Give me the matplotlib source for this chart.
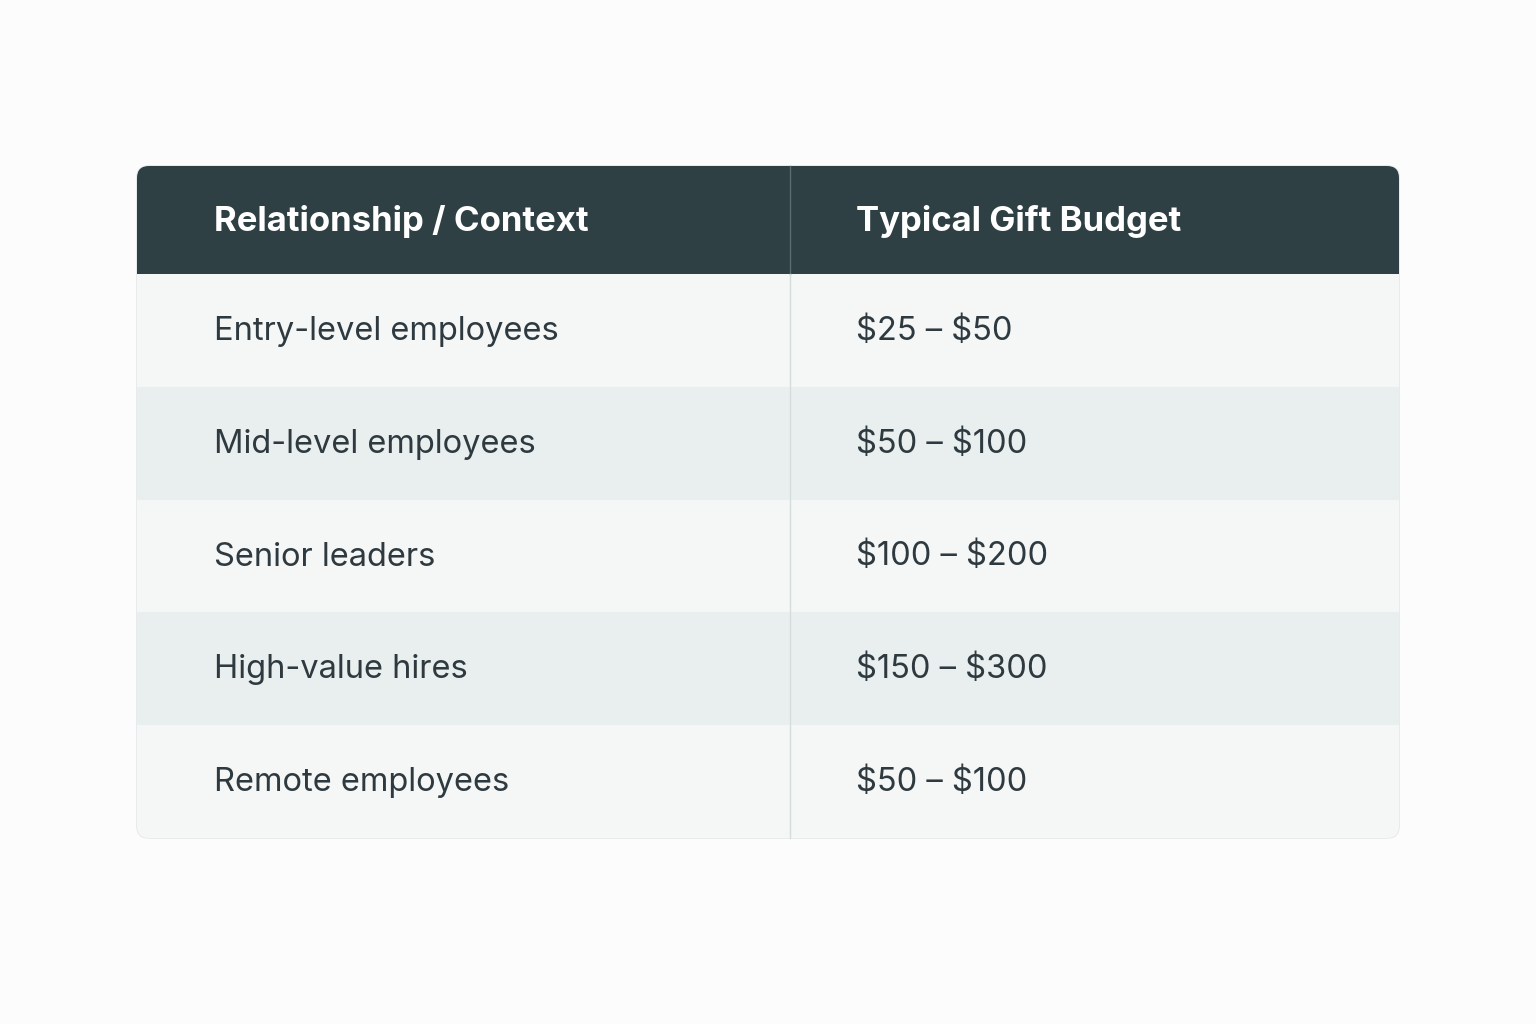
import matplotlib.pyplot as plt
from matplotlib.patches import FancyBboxPatch, Rectangle

headers = ["Relationship / Context", "Typical Gift Budget"]
contexts = ["Entry-level employees", "Mid-level employees", "Senior leaders",
            "High-value hires", "Remote employees"]
budgets = ["$25 – $50", "$50 – $100", "$100 – $200", "$150 – $300", "$50 – $100"]

plt.rcParams['font.family'] = ['Inter', 'DejaVu Sans']

fig = plt.figure(figsize=(15.36, 10.24), dpi=100, facecolor="#fcfcfc")
ax = fig.add_axes([0, 0, 1, 1])
ax.set_xlim(0, 1536); ax.set_ylim(1024, 0); ax.axis("off")

x0, x1, xm = 137, 1399, 790
y_head, y_top = 274, 166
row_h = 112.8
col_x = [214, 856]

frame = FancyBboxPatch((x0, y_top), x1 - x0, 838 - y_top,
                       boxstyle="round,pad=0,rounding_size=12",
                       fc="#f5f7f7", ec="#e3e8e8", lw=1.2, zorder=1)
ax.add_patch(frame)

head = Rectangle((x0, y_top), x1 - x0, y_head - y_top, fc="#2f4045", ec="none", zorder=2)
ax.add_patch(head); head.set_clip_path(frame)
for i, txt in enumerate(headers):
    ax.text(col_x[i], (y_top + y_head) / 2 + 2, txt, color="white", fontsize=25,
            fontweight="bold", va="center", ha="left", zorder=5, parse_math=False)

for r, (c, b) in enumerate(zip(contexts, budgets)):
    ya = y_head + r * row_h
    fc = "#f5f7f7" if r % 2 == 0 else "#e9eeee"
    p = Rectangle((x0, ya), x1 - x0, row_h, fc=fc, ec="none", zorder=2)
    ax.add_patch(p); p.set_clip_path(frame)
    for i, txt in enumerate((c, b)):
        ax.text(col_x[i], ya + row_h / 2 + 1, txt, color="#2e3a3f", fontsize=23.5,
                va="center", ha="left", zorder=5, parse_math=False)

ax.plot([xm, xm], [y_top, y_head], color="#5a6a6e", lw=1, zorder=4)
ax.plot([xm, xm], [y_head, 838], color="#d5dcdc", lw=1, zorder=4)

fig.savefig("out.png", dpi=100, facecolor=fig.get_facecolor())
